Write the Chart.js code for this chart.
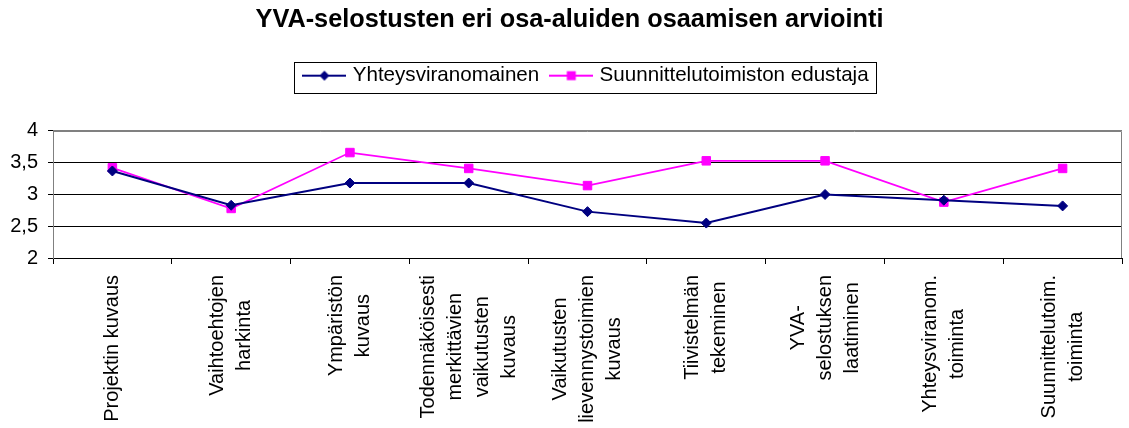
<!DOCTYPE html>
<html>
<head>
<meta charset="utf-8">
<script src="https://cdn.jsdelivr.net/npm/chart.js@4.4.1/dist/chart.umd.min.js"></script>
<style>
  html, body { margin: 0; padding: 0; background: #fff; }
  #c { display: block; }
</style>
</head>
<body>
<canvas id="c" width="1129" height="428"></canvas>
<script>
// ---- data ----
const chartTitle = 'YVA-selostusten eri osa-aluiden osaamisen arviointi';
const categories = [
  ['Projektin kuvaus'],
  ['Vaihtoehtojen', 'harkinta'],
  ['Ympäristön', 'kuvaus'],
  ['Todennäköisesti', 'merkittävien', 'vaikutusten', 'kuvaus'],
  ['Vaikutusten', 'lievennystoimien', 'kuvaus'],
  ['Tiivistelmän', 'tekeminen'],
  ['YVA-', 'selostuksen', 'laatiminen'],
  ['Yhteysviranom.', 'toiminta'],
  ['Suunnittelutoim.', 'toiminta']
];
const seriesNames = ['Yhteysviranomainen', 'Suunnittelutoimiston edustaja'];
const yhteysviranomainen = [3.37, 2.83, 3.18, 3.18, 2.73, 2.55, 3.0, 2.91, 2.82];
const suunnittelutoimisto = [3.42, 2.78, 3.66, 3.41, 3.14, 3.53, 3.53, 2.88, 3.41];
const yTickLabels = ['2', '2,5', '3', '3,5', '4'];

// ---- styles ----
const BLUE = '#000080';
const PINK = '#FF00FF';
const FONT = '"Liberation Sans", Arial, sans-serif';

Chart.defaults.font.family = FONT;
Chart.defaults.color = '#000';

function legendIcon(color, shape) {
  const cv = document.createElement('canvas');
  cv.width = 44; cv.height = 14;
  const g = cv.getContext('2d');
  g.strokeStyle = color; g.lineWidth = 2;
  g.beginPath(); g.moveTo(0, 7); g.lineTo(44, 7); g.stroke();
  g.fillStyle = color;
  g.beginPath();
  if (shape === 'diamond') {
    g.moveTo(22, 2); g.lineTo(27, 7); g.lineTo(22, 12); g.lineTo(17, 7); g.closePath();
  } else {
    g.rect(17.5, 2.5, 9, 9);
  }
  g.fill();
  return cv;
}
const legendIcons = [legendIcon(BLUE, 'diamond'), legendIcon(PINK, 'square')];

const xLabelPlugin = {
  id: 'xLabels',
  afterDraw(chart) {
    const { ctx, chartArea } = chart;
    const x = chart.scales.x;
    const LH = 27;
    ctx.save();
    ctx.font = '20px ' + FONT;
    ctx.fillStyle = '#000';
    ctx.textBaseline = 'middle';
    ctx.textAlign = 'center';
    const top = chartArea.bottom + 17;
    categories.forEach((lines, i) => {
      const cx = x.getPixelForValue(i);
      const maxW = Math.max(...lines.map(l => ctx.measureText(l).width));
      const n = lines.length;
      ctx.save();
      ctx.translate(cx, top);
      ctx.rotate(-Math.PI / 2);
      lines.forEach((l, j) => ctx.fillText(l, -maxW / 2, (j - (n - 1) / 2) * LH));
      ctx.restore();
    });
    ctx.restore();
  }
};

const framePlugin = {
  id: 'frames',
  afterDraw(chart) {
    const { ctx, chartArea } = chart;
    ctx.save();
    // plot area border (top / right)
    ctx.strokeStyle = '#808080';
    ctx.lineWidth = 1;
    ctx.beginPath();
    ctx.moveTo(chartArea.left, Math.round(chartArea.top) + 0.5);
    ctx.lineTo(Math.round(chartArea.right) - 0.5, Math.round(chartArea.top) + 0.5);
    ctx.lineTo(Math.round(chartArea.right) - 0.5, chartArea.bottom);
    ctx.stroke();
    // legend frame
    const hb = chart.legend && chart.legend.legendHitBoxes;
    if (hb && hb.length) {
      const left = Math.min(...hb.map(h => h.left)) - 12;
      const right = Math.max(...hb.map(h => h.left + h.width)) + 8;
      const cy = hb[0].top + hb[0].height / 2;
      ctx.strokeStyle = '#000';
      ctx.strokeRect(Math.round(left) + 0.5, Math.round(cy - 14) + 0.5, Math.round(right - left), 31);
    }
    ctx.restore();
  }
};

new Chart(document.getElementById('c'), {
  type: 'line',
  data: {
    labels: categories,
    datasets: [
      {
        label: seriesNames[0],
        data: yhteysviranomainen,
        borderColor: BLUE,
        backgroundColor: BLUE,
        borderWidth: 2,
        pointStyle: 'rectRot',
        pointRadius: 5,
        pointBorderWidth: 1,
        pointBackgroundColor: BLUE,
        pointBorderColor: BLUE,
        tension: 0
      },
      {
        label: seriesNames[1],
        data: suunnittelutoimisto,
        borderColor: PINK,
        backgroundColor: PINK,
        borderWidth: 1.75,
        pointStyle: 'rect',
        pointRadius: 6,
        pointBorderWidth: 1,
        pointBackgroundColor: PINK,
        pointBorderColor: PINK,
        tension: 0
      }
    ]
  },
  options: {
    responsive: false,
    animation: false,
    devicePixelRatio: 1,
    layout: { padding: { left: 11, right: 1, top: 0, bottom: 0 } },
    plugins: {
      title: {
        display: true,
        text: chartTitle,
        font: { size: 25.3, weight: 'bold', lineHeight: 1.2 },
        color: '#000',
        padding: { top: 5, bottom: 16 },
        fullSize: true
      },
      subtitle: {
        display: true,
        text: ' ',
        weight: 500,
        fullSize: false,
        font: { size: 10, lineHeight: 1 },
        padding: { top: 0, bottom: 25 }
      },
      legend: {
        display: true,
        position: 'top',
        fullSize: false,
        labels: {
          usePointStyle: true,
          pointStyleWidth: 36,
          padding: 14,
          font: { size: 20.6 },
          color: '#000',
          generateLabels(chart) {
            const items = Chart.defaults.plugins.legend.labels.generateLabels(chart);
            items.forEach((it, i) => { it.pointStyle = legendIcons[i]; it.rotation = 0; });
            return items;
          }
        }
      },
      tooltip: { enabled: false }
    },
    scales: {
      x: {
        type: 'category',
        offset: true,
        grid: { offset: true, drawOnChartArea: false, drawTicks: true, tickLength: 6, color: '#000' },
        border: { color: '#000', width: 1 },
        ticks: { display: false },
        afterFit(s) { s.height = 170; }
      },
      y: {
        min: 2,
        max: 4,
        ticks: {
          stepSize: 0.5,
          padding: 10,
          font: { size: 20 },
          color: '#000',
          callback: (v, i) => yTickLabels[i]
        },
        grid: {
          color: c => (c.tick && c.tick.value === 4) ? '#808080' : '#000',
          tickColor: '#000',
          tickLength: 5
        },
        border: { color: '#808080', width: 1 },
        afterFit(s) { s.width = 42; }
      }
    }
  },
  plugins: [xLabelPlugin, framePlugin]
});
</script>
</body>
</html>
